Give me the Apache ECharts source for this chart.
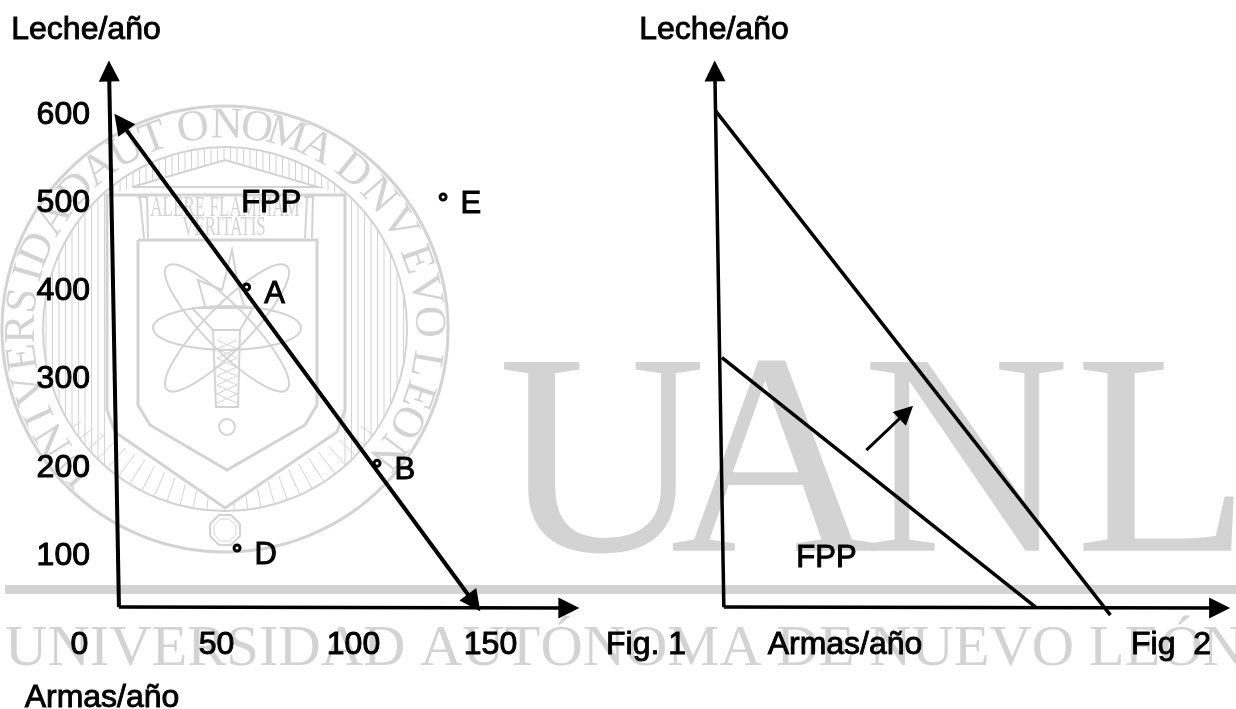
<!DOCTYPE html>
<html>
<head>
<meta charset="utf-8">
<title>FPP</title>
<style>
  html, body { margin: 0; padding: 0; background: #fff; }
  #chart { width: 1236px; height: 709px; }
</style>
<script src="https://cdn.jsdelivr.net/npm/echarts@6/dist/echarts.min.js"></script>
</head>
<body>
<div id="chart"></div>
<script>
// datos fig. 1
const xTicks = [0, 50, 100, 150]
const yTicks = [100, 200, 300, 400, 500, 600]
const pointNames = ['A', 'B', 'D', 'E']
const pointX = [61, 108.6, 57.5, 132.7]
const pointY = [405, 205, 109, 507]
const fig1AxisY = [[14.4, 42], [10.8, 650]]
const fig1AxisX = [[14.4, 42], [178.6, 41]]
const fig1Fpp = [[15, 592], [144, 47]]
const fig1Label = ['FPP', 70, 500]

// datos fig. 2
const fig2AxisY = [[12.4, 42], [9.1, 650]]
const fig2AxisX = [[12.4, 42], [194, 41]]
const fig2FppOuter = [[9.3, 605], [154, 33]]
const fig2FppInner = [[11.7, 325], [126.6, 42]]
const fig2Shift = [[64.6, 220], [79.2, 263]]
const fig2Label = ['FPP', 50, 97]

const BLACK = '#000'
const GREY = '#d3d3d3'
const FONT = '"Liberation Sans", Arial, sans-serif'
const SERIF = '"Liberation Serif", serif'

function segment(pair, width, symbols, size) {
  return {
    silent: true,
    animation: false,
    symbol: symbols,
    symbolSize: size,
    label: { show: false },
    lineStyle: { color: BLACK, width, type: 'solid', opacity: 1 },
    data: [[{ coord: pair[0] }, { coord: pair[1] }]],
  }
}

function lineSeries(idx, pair, width, symbols, size) {
  return {
    type: 'scatter',
    xAxisIndex: idx,
    yAxisIndex: idx,
    data: [],
    markLine: segment(pair, width, symbols, size),
  }
}

function caption(idx, item) {
  return {
    type: 'scatter',
    xAxisIndex: idx,
    yAxisIndex: idx,
    symbolSize: 0,
    itemStyle: { opacity: 1 },
    data: [{ name: item[0], value: [item[1], item[2]] }],
    label: {
      show: true,
      position: 'inside',
      formatter: '{b}',
      color: BLACK,
      fontFamily: FONT,
      fontSize: 31,
      textBorderColor: BLACK,
      textBorderWidth: 1,
    },
  }
}

function blackText(text, x, y, size) {
  return {
    type: 'text',
    z: 10,
    style: {
      text, x, y,
      fill: BLACK,
      stroke: BLACK,
      lineWidth: 0.9,
      font: `${size}px ${FONT}`,
      align: 'center',
      verticalAlign: 'middle',
    },
  }
}

// marca de agua: todo en gris detras de la grafica
function greyLine(x1, y1, x2, y2, w) {
  return { type: 'line', z: 0, shape: { x1, y1, x2, y2 }, style: { stroke: GREY, lineWidth: w || 1 } }
}
function greyShape(type, shape, w, rotation, originXY) {
  const el = { type, z: 0, shape, style: { stroke: GREY, fill: 'none', lineWidth: w || 2 } }
  if (rotation) {
    el.rotation = rotation
    el.originX = originXY[0]
    el.originY = originXY[1]
  }
  return el
}
function greyText(text, x, y, size, sx, rotation) {
  return {
    type: 'text',
    z: 0,
    x, y,
    rotation: rotation || 0,
    scaleX: sx || 1,
    style: {
      text,
      x: 0, y: 0,
      fill: GREY,
      font: `${size}px ${SERIF}`,
      align: 'center',
      verticalAlign: 'middle',
    },
  }
}

function watermark() {
  const cx = 225, cy = 329
  const els = []
  els.push({ type: 'rect', z: 0, shape: { x: 5, y: 585, width: 1231, height: 9 }, style: { fill: GREY } })
  els.push(greyText('UNIVERSIDAD AUTÓNOMA DE NUEVO LEÓN', 625, 650, 58, 1.01))
  els.push(greyText('U', 602, 475, 288))
  els.push(greyText('A', 774, 475, 288))
  els.push(greyText('N', 966, 475, 288))
  els.push(greyText('L', 1163, 475, 288))

  // sello
  els.push(greyShape('circle', { cx, cy, r: 223 }, 3))
  els.push(greyShape('circle', { cx, cy, r: 182 }, 2))
  const seal = 'UNIVERSIDADAUTONOMADNVEVOLEON'
  const sealAngles = [-133, -123, -115, -107, -98, -90, -82, -74, -67, -57, -47, -38, -29, -20.5, -9, 0.5, 9, 17.6, 27, 39, 49, 59, 70, 79, 88, 100, 109, 117, 127]
  for (let i = 0; i < seal.length; i++) {
    const a = sealAngles[i] * Math.PI / 180
    els.push(greyText(seal[i], cx + 203 * Math.sin(a), cy - 203 * Math.cos(a), 44, 1, -a))
  }
  // rayado vertical a los lados
  for (let x = 46; x <= 406; x += 6.5) {
    if (x > 107 && x < 345) continue
    const dy = Math.sqrt(182 * 182 - (x - cx) * (x - cx))
    els.push(greyLine(x, cy - dy, x, cy + dy, 1))
  }
  // rayado de arriba
  for (let x = 107; x <= 345; x += 6.5) {
    const dy = Math.sqrt(182 * 182 - (x - cx) * (x - cx))
    els.push(greyLine(x, cy - dy, x, Math.min(160 + Math.abs(x - cx) * 0.3, 193), 1))
  }
  // rayos de abajo
  for (let a = -1.0; a <= 1.0; a += 0.075) {
    const r = 179 / (Math.cos(a) + 0.6 * Math.abs(Math.sin(a)))
    if (r > 176) continue
    els.push(greyLine(cx + r * Math.sin(a), cy + r * Math.cos(a), cx + 182 * Math.sin(a), cy + 182 * Math.cos(a), 1))
  }
  // edificio
  els.push(greyShape('polyline', { points: [[132, 187], [225, 160], [318, 187], [132, 187]] }, 2))
  els.push(greyShape('polyline', { points: [[107, 410], [107, 195], [345, 195], [345, 410], [337, 432], [225, 508], [115, 432], [107, 410]] }, 3))
  els.push(greyShape('polyline', { points: [[138, 240], [317, 240], [317, 405], [305, 425], [227, 470], [150, 425], [138, 405], [138, 240]] }, 3))
  els.push(greyLine(137, 197, 147, 197, 2), greyLine(140, 197, 144, 238, 2), greyLine(147, 197, 148, 238, 2))
  els.push(greyLine(304, 197, 314, 197, 2), greyLine(307, 197, 305, 238, 2), greyLine(313, 197, 312, 238, 2))
  els.push(greyText('ALERE FLAMMAM', 225, 208, 30, 0.57))
  els.push(greyText('VERITATIS', 224, 228, 27, 0.62))
  // atomo y antorcha
  els.push(greyShape('ellipse', { cx: 227, cy: 328, rx: 74, ry: 22 }, 2))
  els.push(greyShape('ellipse', { cx: 227, cy: 328, rx: 86, ry: 22 }, 2, 0.8, [227, 328]))
  els.push(greyShape('ellipse', { cx: 227, cy: 328, rx: 86, ry: 22 }, 2, -0.8, [227, 328]))
  els.push(greyShape('polyline', { points: [[192, 308], [253, 308], [240, 330], [213, 330], [192, 308]] }, 2))
  els.push(greyShape('polyline', { points: [[213, 330], [216, 407], [238, 407], [240, 330]] }, 2))
  for (let y = 340; y < 400; y += 9) {
    els.push(greyLine(217, y, 237, y + 9, 1), greyLine(237, y, 217, y + 9, 1))
  }
  els.push(greyShape('polyline', { points: [[205, 306], [198, 280], [222, 290], [232, 250], [238, 285], [244, 306]] }, 2))
  els.push(greyShape('circle', { cx: 227, cy: 427, r: 8 }, 2))
  const oct = (r) => [[-0.4, -1], [0.4, -1], [1, -0.4], [1, 0.4], [0.4, 1], [-0.4, 1], [-1, 0.4], [-1, -0.4]].map(p => [225 + p[0] * r, 530 + p[1] * r])
  els.push(greyShape('polygon', { points: oct(15) }, 2))
  els.push(greyShape('polygon', { points: oct(11) }, 1))
  return els
}

const chart = echarts.init(document.getElementById('chart'), null, { renderer: 'canvas' })

const labelStyle = {
  color: BLACK,
  fontFamily: FONT,
  fontSize: 32,
  textBorderColor: BLACK,
  textBorderWidth: 1,
}

function hiddenAxis(extra) {
  return Object.assign({
    type: 'value',
    axisLine: { show: false },
    axisTick: { show: false },
    splitLine: { show: false },
    axisLabel: { show: false },
  }, extra)
}

chart.setOption({
  animation: false,
  backgroundColor: '#fff',
  grid: [
    { left: 79.5, top: 53.3, width: 520.6, height: 564.4 },
    { left: 690, top: 53.3, width: 548, height: 564.4 },
  ],
  xAxis: [
    hiddenAxis({
      gridIndex: 0, min: 0, max: 190,
      axisLabel: Object.assign({ show: true, margin: 11, customValues: xTicks }, labelStyle),
    }),
    hiddenAxis({ gridIndex: 1, min: 0, max: 200 }),
  ],
  yAxis: [
    hiddenAxis({
      gridIndex: 0, min: 30, max: 670,
      axisLabel: Object.assign({ show: true, margin: -10.5, customValues: yTicks }, labelStyle),
    }),
    hiddenAxis({ gridIndex: 1, min: 30, max: 670 }),
  ],
  graphic: watermark().concat([
    blackText('Leche/año', 86, 30, 32),
    blackText('Leche/año', 714, 30, 32),
    blackText('Armas/año', 102, 698, 32),
    blackText('Fig. 1', 646, 645, 32),
    blackText('Armas/año', 845, 645, 32),
    blackText('Fig  2', 1171, 645, 32),
  ]),
  series: [
    lineSeries(0, fig1AxisY, 4, ['none', 'triangle'], 21),
    lineSeries(0, fig1AxisX, 3.5, ['none', 'triangle'], 21),
    lineSeries(0, fig1Fpp, 4, ['triangle', 'triangle'], 21),
    {
      type: 'scatter',
      xAxisIndex: 0,
      yAxisIndex: 0,
      symbol: 'circle',
      symbolSize: 6,
      itemStyle: { color: '#fff', borderColor: BLACK, borderWidth: 3, opacity: 1 },
      data: pointNames.map((n, i) => ({ name: n, value: [pointX[i], pointY[i]] })),
      label: {
        show: true,
        position: 'right',
        distance: 13,
        offset: [0, 7],
        formatter: '{b}',
        color: BLACK,
        fontFamily: FONT,
        fontSize: 31,
        textBorderColor: BLACK,
        textBorderWidth: 1,
      },
    },
    caption(0, fig1Label),
    lineSeries(1, fig2AxisY, 3.5, ['none', 'triangle'], 21),
    lineSeries(1, fig2AxisX, 3.5, ['none', 'triangle'], 21),
    lineSeries(1, fig2FppOuter, 3.5, ['none', 'none'], 0),
    lineSeries(1, fig2FppInner, 3.5, ['none', 'none'], 0),
    lineSeries(1, fig2Shift, 3, ['none', 'triangle'], 19),
    caption(1, fig2Label),
  ],
})
</script>
</body>
</html>
